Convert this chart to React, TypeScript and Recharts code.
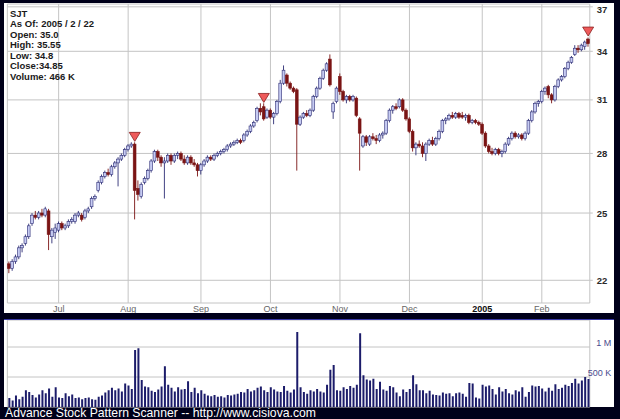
import {
  ComposedChart,
  BarChart,
  Bar,
  Scatter,
  XAxis,
  YAxis,
  CartesianGrid,
} from 'recharts';

// trading days from early June 2004 to 2005/2/22, one entry per day
const opens = [
  22.7, 22.5, 22.8, 23.0, 23.4, 23.6, 23.9, 24.5, 24.9, 24.8, 25.0, 24.9, 25.1, 23.9, 24.1,
  24.2, 24.5, 24.3, 24.4, 24.6, 24.6, 24.9, 24.9, 24.8, 25.1, 25.3, 25.7, 26.1, 26.5, 26.8, 27.0, 26.9, 27.3, 27.5, 27.7, 27.9,
  28.2, 28.4, 28.5, 26.2, 25.8, 26.5, 26.7, 27.1, 27.6, 28.1, 27.8, 27.5, 27.6, 27.9, 27.6, 27.9, 28.0, 27.7, 27.5, 27.8, 27.5, 27.4,
  27.1, 27.4, 27.6, 27.8, 27.7, 27.9, 28.0, 28.1, 28.2, 28.4, 28.5, 28.6, 28.7, 28.7, 29.0, 29.2, 29.5, 29.8, 30.5, 30.6, 30.0,
  30.4, 30.0, 30.2, 30.9, 32.0, 32.5, 32.0, 31.7, 31.6, 29.6, 30.0, 30.2, 30.1, 30.4, 31.2, 31.7, 32.3, 32.8, 33.5, 30.3, 30.9,
  32.4, 31.5, 31.0, 31.2, 31.0, 31.1, 29.9, 28.4, 28.9, 28.5, 28.9, 28.8, 28.7, 29.0, 29.1, 29.8, 30.4, 30.6, 30.6, 31.0, 30.4,
  29.9, 29.2, 28.3, 28.5, 28.4, 28.0, 28.5, 28.7, 28.5, 28.8, 29.2, 29.8, 29.9, 30.1, 30.0, 30.2, 30.1, 30.0, 30.1, 29.7, 29.8, 29.7,
  29.6, 29.1, 28.4, 28.1, 28.0, 28.2, 28.0, 28.1, 28.5, 28.8, 29.1, 28.9, 29.0, 28.8, 29.1, 29.8, 30.3, 30.8,
  30.9, 31.5, 31.8, 31.3, 31.0, 31.8, 32.2, 32.4, 32.9, 33.3, 33.8, 34.2, 34.1, 34.3, 34.8,
];
const highs = [
  22.8, 22.9, 23.1, 23.5, 23.6, 24.0, 24.5, 25.0, 25.1, 25.1, 25.2, 25.3, 25.2, 24.3, 24.5,
  24.6, 24.6, 24.5, 24.7, 24.8, 25.0, 25.1, 25.0, 25.2, 25.3, 25.8, 25.9, 26.6, 26.9, 27.1, 27.2, 27.4, 27.6, 27.8, 28.0, 28.3,
  28.5, 28.6, 28.6, 26.6, 26.5, 26.8, 27.2, 27.7, 28.2, 28.2, 27.9, 27.8, 28.0, 28.0, 28.0, 28.1, 28.1, 27.9, 27.9, 27.9, 27.7, 27.5,
  27.5, 27.7, 27.9, 27.9, 28.0, 28.1, 28.2, 28.3, 28.5, 28.6, 28.7, 28.8, 28.8, 29.1, 29.3, 29.6, 29.8, 30.6, 30.8, 30.8, 30.5,
  30.5, 30.3, 31.0, 32.2, 33.1, 32.6, 32.1, 31.8, 31.7, 30.1, 30.3, 30.4, 30.5, 31.3, 31.8, 32.4, 32.9, 33.3, 33.8, 30.9, 31.8,
  32.6, 31.6, 31.3, 31.3, 31.3, 31.2, 30.0, 29.0, 29.0, 29.0, 29.1, 29.0, 29.1, 29.2, 29.9, 30.5, 30.7, 30.8, 31.1, 31.1, 30.5,
  30.0, 29.3, 28.6, 28.7, 28.6, 28.6, 28.8, 28.9, 28.9, 29.3, 29.9, 30.0, 30.2, 30.3, 30.3, 30.3, 30.3, 30.2, 30.2, 29.9, 29.9, 29.8,
  29.7, 29.2, 28.5, 28.3, 28.3, 28.3, 28.2, 28.6, 28.9, 29.2, 29.2, 29.1, 29.1, 29.2, 29.9, 30.4, 30.9, 31.0,
  31.6, 31.8, 31.9, 31.4, 31.9, 32.3, 32.5, 33.0, 33.4, 33.7, 34.4, 34.4, 34.5, 34.7, 34.9,
];
const lows = [
  22.3, 22.4, 22.7, 22.9, 23.2, 23.5, 23.8, 24.4, 24.7, 24.7, 24.8, 24.8, 23.3, 23.6, 23.8,
  24.1, 24.2, 24.2, 24.3, 24.5, 24.5, 24.8, 24.6, 24.7, 25.0, 25.2, 25.6, 26.0, 26.4, 26.7, 26.8, 26.8, 27.2, 26.3, 27.6, 27.8,
  28.1, 28.3, 24.7, 25.6, 25.7, 26.4, 26.6, 27.0, 27.5, 27.6, 27.3, 25.7, 27.5, 27.4, 27.5, 27.7, 27.6, 27.4, 27.4, 27.4, 27.3, 26.8,
  26.9, 27.3, 27.5, 27.6, 27.6, 27.8, 27.9, 28.0, 28.1, 28.3, 28.4, 28.5, 28.5, 28.6, 28.9, 29.1, 29.4, 29.7, 30.1, 29.8, 29.9,
  29.9, 29.6, 30.1, 30.8, 31.9, 31.8, 31.6, 31.4, 27.1, 29.5, 29.9, 30.0, 30.0, 30.3, 31.1, 31.6, 32.2, 32.7, 31.8, 29.9, 30.8,
  31.3, 30.9, 30.8, 30.9, 30.9, 30.0, 27.1, 28.3, 28.4, 28.4, 28.7, 28.5, 28.6, 28.8, 29.0, 29.7, 30.2, 30.4, 30.5, 30.3, 29.8,
  29.1, 28.1, 27.9, 28.3, 27.8, 27.6, 28.4, 28.4, 28.4, 28.7, 29.1, 29.6, 29.8, 29.9, 29.9, 29.9, 29.9, 29.8, 29.6, 29.6, 29.6, 29.5,
  29.0, 28.3, 28.0, 27.9, 27.9, 27.9, 27.8, 28.0, 28.4, 28.7, 28.8, 28.8, 28.7, 28.7, 29.0, 29.7, 30.2, 30.6,
  30.8, 31.3, 31.1, 30.8, 30.9, 31.7, 32.1, 32.3, 32.8, 33.2, 33.7, 33.9, 34.0, 34.1, 34.3,
];
const closes = [
  22.5, 22.8, 23.0, 23.4, 23.5, 23.9, 24.4, 24.9, 24.8, 25.0, 24.9, 25.2, 24.0, 24.2, 24.3,
  24.5, 24.3, 24.4, 24.6, 24.7, 24.9, 25.0, 24.7, 25.1, 25.2, 25.7, 25.8, 26.5, 26.8, 27.0, 26.9, 27.3, 27.5, 27.7, 27.9, 28.2,
  28.4, 28.5, 26.1, 25.9, 26.4, 26.7, 27.1, 27.6, 28.1, 27.8, 27.5, 27.6, 27.9, 27.6, 27.9, 28.0, 27.7, 27.5, 27.8, 27.5, 27.4, 27.1,
  27.4, 27.6, 27.8, 27.7, 27.9, 28.0, 28.1, 28.2, 28.4, 28.5, 28.6, 28.7, 28.6, 29.0, 29.2, 29.5, 29.7, 30.5, 30.3, 29.9, 30.4,
  30.0, 30.2, 30.9, 32.0, 32.8, 32.0, 31.7, 31.5, 29.6, 30.0, 30.2, 30.1, 30.4, 31.2, 31.7, 32.3, 32.8, 33.2, 31.9, 30.8, 31.7,
  31.5, 31.0, 31.2, 31.0, 31.2, 30.1, 29.1, 28.9, 28.6, 28.9, 28.8, 28.7, 29.0, 29.1, 29.8, 30.4, 30.6, 30.5, 31.0, 30.4, 29.9,
  29.2, 28.3, 28.5, 28.4, 28.0, 28.5, 28.7, 28.5, 28.8, 29.2, 29.8, 29.9, 30.1, 30.0, 30.2, 30.0, 30.0, 30.1, 29.7, 29.8, 29.7, 29.6,
  29.1, 28.4, 28.1, 28.0, 28.2, 28.0, 28.1, 28.5, 28.8, 29.1, 28.9, 29.0, 28.8, 29.1, 29.8, 30.3, 30.8, 30.9,
  31.5, 31.7, 31.3, 31.0, 31.8, 32.2, 32.4, 32.9, 33.3, 33.6, 34.2, 34.1, 34.4, 34.6, 34.5,
];
// volume in thousands
const volumes = [
  150, 110, 190, 130, 170, 280, 250, 200, 160, 210, 280, 230, 310, 170, 330,
  160, 150, 230, 180, 210, 150, 160, 130, 150, 160, 130, 120, 170, 190, 240, 280, 320, 280, 310, 260, 390,
  360, 300, 950, 980, 450, 340, 330, 270, 250, 290, 340, 680, 370, 320, 260, 330, 290, 300, 430, 250, 320, 230,
  280, 220, 190, 180, 200, 170, 180, 160, 200, 190, 210, 220, 250, 240, 300, 260, 280, 320, 340, 280, 250,
  330, 290, 260, 250, 350, 270, 240, 290, 1250, 330, 250, 220, 280, 260, 300, 260, 240, 370, 620, 700, 280,
  270, 330, 300, 350, 320, 370, 1230, 530, 460, 440, 470, 300, 420, 290, 270, 350, 330, 240, 180, 290, 250,
  300, 530, 380, 280, 280, 230, 270, 210, 200, 190, 240, 220, 230, 180, 230, 240, 220, 170, 400, 390, 160, 140,
  370, 340, 360, 300, 210, 330, 260, 300, 230, 210, 280, 260, 330, 170, 250, 360, 340, 350,
  310, 260, 320, 270, 380, 300, 320, 370, 350, 400, 470, 390, 440, 500, 466,
];

// sell signals (red triangles): day index and price at the tip
const signalDays = [38, 77, 175];
const signalPrices = [28.65, 30.85, 35.0];

const monthTicks = [15, 36, 58, 79, 100, 121, 143, 161];
const monthLabels = ['Jul', 'Aug', 'Sep', 'Oct', 'Nov', 'Dec', '2005', 'Feb'];
const priceTicks = [22, 25, 28, 31, 34, 37];
const volumeTicks = [500, 1000];

const infoLines = [
  'SJT',
  'As Of: 2005 / 2 / 22',
  'Open: 35.0',
  'High: 35.55',
  'Low: 34.8',
  'Close:34.85',
  'Volume: 466 K',
];

const data = opens.map((o, i) => {
  const s = signalDays.indexOf(i);
  return {
    i,
    o,
    h: highs[i],
    l: lows[i],
    c: closes[i],
    range: [lows[i], highs[i]],
    vol: volumes[i],
    sig: s >= 0 ? signalPrices[s] : undefined,
  };
});

const FONT = '"Liberation Sans", Arial, sans-serif';
const GRID = '#c4c4c4';

const Candle = (props: any) => {
  const { x, y, width, height, payload } = props;
  if (!payload || !Number.isFinite(y)) return <g />;
  const cx = x + width / 2;
  const top = Math.min(y, y + height);
  const bot = Math.max(y, y + height);
  // log axis: position is linear in ln(price) between high and low
  const lnH = Math.log(payload.h);
  const lnL = Math.log(payload.l);
  const span = lnH - lnL || 1;
  const py = (v: number) => top + ((lnH - Math.log(v)) / span) * (bot - top);
  const up = payload.c >= payload.o;
  const yo = py(payload.o);
  const yc = py(payload.c);
  const bTop = Math.min(yo, yc);
  const bH = Math.max(1, Math.abs(yo - yc));
  const wick = up ? '#2c2c74' : '#7a1414';
  return (
    <g>
      <line x1={cx} x2={cx} y1={top} y2={bot} stroke={wick} strokeWidth={0.9} />
      <rect
        x={cx - 1.4}
        y={bTop}
        width={2.8}
        height={bH}
        fill={up ? '#c6cbf2' : '#7a1414'}
        stroke={wick}
        strokeWidth={0.6}
      />
    </g>
  );
};

const Triangle = (props: any) => {
  const { cx, cy } = props;
  if (!Number.isFinite(cx) || !Number.isFinite(cy)) return <g />;
  return (
    <polygon
      points={`${cx - 5.5},${cy - 9} ${cx + 5.5},${cy - 9} ${cx},${cy}`}
      fill="#ee5a5a"
      stroke="#8a2020"
      strokeWidth={0.8}
    />
  );
};

const MonthTick = (props: any) => {
  const { x, y, payload } = props;
  const label = monthLabels[monthTicks.indexOf(payload.value)];
  const bold = label === '2005';
  return (
    <text
      x={x}
      y={y + 9}
      textAnchor="middle"
      fontSize={9}
      fontFamily={FONT}
      fontWeight={bold ? 'bold' : 'normal'}
      fill={bold ? '#111' : '#666'}
    >
      {label}
    </text>
  );
};

const PriceTick = (props: any) => {
  const { x, y, payload } = props;
  return (
    <text x={x} y={y + 3.5} fontSize={9.5} fontFamily={FONT} fontWeight="bold" fill="#2a2a2a">
      {payload.value}
    </text>
  );
};

const VolumeTick = (props: any) => {
  const { x, y, payload } = props;
  const v = payload.value;
  return (
    <text x={x + 21.5} y={y - 1} textAnchor="end" fontSize={9} fontFamily={FONT} fill="#4a4a8e">
      {v >= 1000 ? `${v / 1000} M` : `${v} K`}
    </text>
  );
};

export default function App() {
  return (
    <div
      style={{
        position: 'absolute',
        left: 0,
        top: 0,
        width: 620,
        height: 419,
        background: '#00001a',
        overflow: 'hidden',
        fontFamily: FONT,
      }}
    >
      <div style={{ position: 'absolute', left: 4, top: 3, width: 610, height: 310, background: '#fff' }} />
      <div style={{ position: 'absolute', left: 4, top: 318.5, width: 610, height: 1.5, background: '#3a3aa8' }} />
      <div style={{ position: 'absolute', left: 4, top: 320, width: 610, height: 87, background: '#fff' }} />

      <div style={{ position: 'absolute', left: 0, top: 0 }}>
        <ComposedChart width={620} height={313} data={data} margin={{ top: 4, right: 0, bottom: 0, left: 7.35 }}>
          <CartesianGrid stroke={GRID} />
          <XAxis
            dataKey="i"
            ticks={monthTicks}
            interval={0}
            height={10}
            axisLine={false}
            tickLine={false}
            tickSize={0}
            tickMargin={0}
            tick={<MonthTick />}
          />
          <YAxis
            orientation="right"
            type="number"
            scale="log"
            domain={[21.07, 37.2]}
            allowDataOverflow
            ticks={priceTicks}
            width={30.2}
            axisLine={false}
            tickLine={{ stroke: GRID }}
            tickSize={3}
            tickMargin={4}
            tick={<PriceTick />}
          />
          <Bar dataKey="range" barSize={3} shape={<Candle />} isAnimationActive={false} />
          <Scatter dataKey="sig" shape={<Triangle />} isAnimationActive={false} />
        </ComposedChart>
      </div>

      <div style={{ position: 'absolute', left: 0, top: 320 }}>
        <BarChart width={620} height={88} data={data} margin={{ top: 0, right: 0, bottom: 0, left: 7.35 }}>
          <CartesianGrid stroke={GRID} />
          <XAxis dataKey="i" ticks={monthTicks} interval={0} height={1} axisLine={false} tickLine={false} tick={false} />
          <YAxis
            orientation="right"
            type="number"
            domain={[0, 1450]}
            allowDataOverflow
            ticks={volumeTicks}
            width={30.2}
            axisLine={false}
            tickLine={false}
            tickSize={0}
            tickMargin={0}
            tick={<VolumeTick />}
          />
          <Bar dataKey="vol" barSize={2} fill="#1c1c6a" isAnimationActive={false} />
        </BarChart>
      </div>

      <div
        style={{
          position: 'absolute',
          left: 10,
          top: 8.5,
          fontSize: 9.5,
          lineHeight: '10.5px',
          fontWeight: 'bold',
          color: '#1a1a1a',
          whiteSpace: 'pre',
        }}
      >
        {infoLines.map((t) => (
          <div key={t}>{t}</div>
        ))}
      </div>

      <div
        style={{
          position: 'absolute',
          left: 5,
          top: 406.9,
          fontSize: 12.2,
          lineHeight: '13px',
          color: '#fff',
          whiteSpace: 'pre',
        }}
      >
        Advance Stock Pattern Scanner -- http://www.cisiova.com
      </div>
    </div>
  );
}
